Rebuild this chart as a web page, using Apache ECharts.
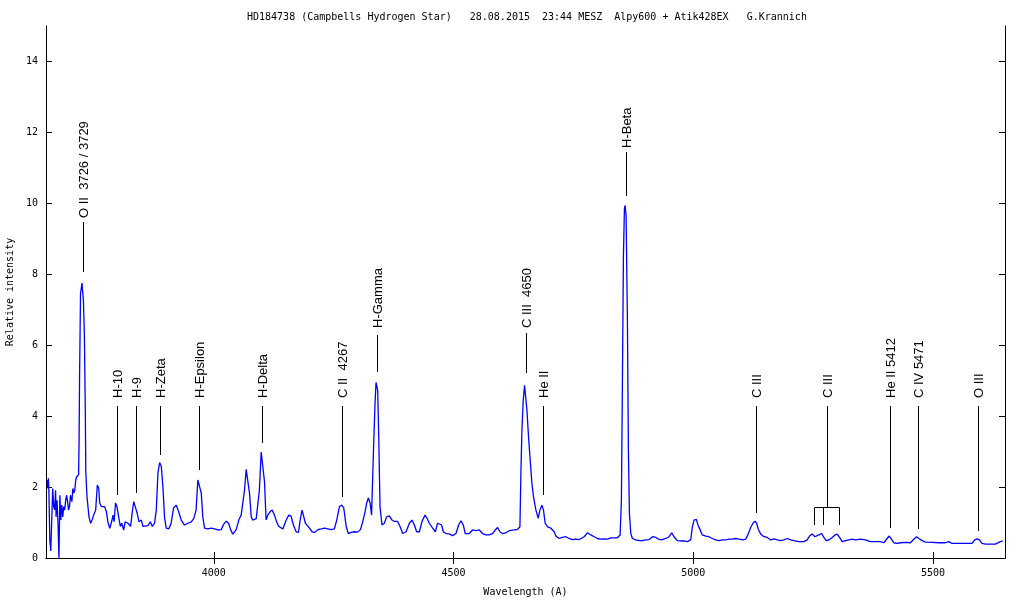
<!DOCTYPE html>
<html>
<head>
<meta charset="utf-8">
<script src="https://cdn.jsdelivr.net/npm/echarts@6/dist/echarts.min.js"></script>
<style>html,body{margin:0;padding:0;background:#fff;}#chart{width:1024px;height:600px;}</style>
</head>
<body>
<div id="chart"></div>
<script>
// ---- data ----
const titleText = 'HD184738 (Campbells Hydrogen Star)   28.08.2015  23:44 MESZ  Alpy600 + Atik428EX   G.Krannich';
const xTicks = [4000, 4500, 5000, 5500];
const yTicks = [0, 2, 4, 6, 8, 10, 12, 14];

const wavelength = [
3652,3654,3655,3656,3658,3660,3662,3664,3666,3668,3670,3671,3673,3675,3677,3679,3681,3683,3685,3687,3689,3691,3693,3695,3697,3699,3701,3704,3706,3708,3710,3712,3714,3716,3718,3719,3720,3722,3725,3727,3728,3730,3732,3733,3735.5,3739.6,3743,3746,3749.4,3753.6,3757,3760,3762,3765.5,3769,3772,3776,3779,3783,3786,3790,3792,3795,3798,3801.5,3805,3808,3812,3815,3821,3826.5,3830,3833,3837,3840,3844,3849,3852,3855.7,3862.5,3867.5,3871.7,3876.5,3880,3883.4,3887,3890.5,3893.8,3897.3,3900.8,3906,3911,3916,3921.7,3926.5,3932,3939,3946,3953,3958,3963,3966.7,3970,3973.8,3977,3980.6,3987.5,3994.6,4001.5,4008.4,4015.5,4020,4026,4030.7,4035,4039.6,4046.7,4052,4057,4060.5,4064,4067.5,4071,4074.4,4078,4081,4085,4088.4,4091.7,4095,4098.8,4102,4105.7,4109,4112.5,4117.5,4121.7,4126.5,4131,4135.5,4137,4144,4151,4156.3,4161,4166,4171.7,4176.5,4180,4184,4187.5,4191,4198,4205,4210,4217,4224,4230.7,4237.6,4244.6,4251.5,4256.3,4262,4266.7,4271,4276,4280.7,4286.3,4293,4300,4305.7,4310.5,4315.5,4318.8,4322.3,4326,4329,4333.4,4336.2,4338.3,4340.5,4341.7,4343.8,4345.2,4346.6,4350.7,4355.6,4360.4,4366,4371.6,4376.5,4383.4,4388.4,4393.8,4400.9,4407.8,4413.4,4418.2,4423,4428.6,4434.2,4440.4,4444.6,4449.4,4456.3,4461.9,4466.7,4470.2,4475,4478.6,4484.2,4491,4498,4505,4510.5,4515.5,4520.2,4524.4,4532.7,4539.6,4546.7,4553.6,4560.4,4567.5,4574.4,4581.3,4587,4591.7,4596.7,4602,4609.2,4616,4626.5,4633.4,4638.4,4640.4,4642.5,4645.3,4648,4651,4653,4656.3,4659.8,4663.4,4666.7,4671.7,4676.5,4680,4684.2,4687.5,4691,4696,4703,4709.8,4713.4,4720.2,4727,4734,4741,4748,4755,4762,4772.3,4779.2,4786.2,4793.1,4800,4807,4814,4820.8,4827.8,4834.8,4841.7,4847.3,4850,4852,4854.2,4856.3,4857.7,4859.8,4862.6,4864.6,4866.7,4869.6,4873,4880,4887,4894,4901,4908,4915,4922,4929,4935.5,4942.5,4949.4,4955,4959.8,4966.7,4973.7,4980.6,4987.5,4994.6,4998,5001.5,5006.3,5009.8,5014,5018.8,5025.8,5032.7,5039.6,5046.6,5053.5,5060.5,5067.5,5074.4,5081.4,5088.4,5095.3,5102.3,5109.2,5114.6,5119.6,5124.4,5128.6,5132,5135.5,5140.4,5147.3,5154.2,5161.2,5168,5175,5182,5189,5195.9,5202.9,5209.8,5220.2,5230.6,5237.5,5242.5,5248,5253.6,5257,5261.9,5267.5,5272.3,5277.1,5282.7,5289.6,5295.3,5300,5305,5310.4,5317.5,5324.4,5331.3,5338.3,5348.7,5359.1,5369.5,5379.9,5390.4,5397.3,5404.2,5408.4,5413.3,5418.1,5425,5432.1,5442.5,5452.9,5459.8,5465.4,5470.2,5477.1,5484.1,5498,5511.9,5525.8,5532.7,5539.6,5550,5560.4,5570.9,5581.3,5586.9,5591.7,5596.7,5602.1,5609.1,5619.5,5629.9,5640.3,5645.1
];
const intensity = [
2.2,1.96,2.25,1.91,0.5,0.2,0.15,1.96,1.45,1.36,1.91,1.16,1.63,1.0,0.0,1.77,1.07,1.49,1.16,1.45,1.35,1.63,1.77,1.59,1.35,1.45,1.77,1.59,1.96,1.83,1.91,2.2,2.29,2.29,2.35,3.3,5.1,7.45,7.75,7.77,7.27,6.33,4.12,2.43,1.73,1.16,0.98,1.07,1.21,1.35,2.06,1.96,1.55,1.45,1.49,1.45,1.31,1.02,0.84,0.98,1.21,1.02,1.55,1.45,1.16,0.89,0.98,0.79,1.02,0.98,0.89,1.31,1.59,1.63,1.27,1.02,1.07,0.89,0.87,0.91,1.02,0.89,0.98,1.35,2.39,2.69,2.58,2.01,1.13,0.84,0.82,0.98,1.41,1.49,1.31,1.07,0.93,0.98,1.02,1.11,1.35,2.2,2.25,1.83,1.16,0.84,0.82,0.84,0.82,0.79,0.8,0.94,1.04,0.98,0.8,0.67,0.8,1.07,1.21,1.21,1.91,2.5,2.48,1.83,1.16,1.07,1.07,1.11,1.07,1.91,2.99,2.95,2.15,1.07,1.21,1.31,1.35,1.21,1.02,0.89,0.84,0.82,1.07,1.21,1.18,0.93,0.74,0.72,1.07,1.35,1.31,0.98,0.87,0.74,0.72,0.8,0.82,0.84,0.82,0.8,0.82,1.07,1.45,1.49,1.41,0.89,0.69,0.72,0.74,0.73,0.8,1.02,1.31,1.55,1.69,1.55,1.21,3.23,4.36,4.95,4.92,4.73,3.51,2.48,1.45,0.93,0.98,1.16,1.19,1.07,1.03,1.03,0.89,0.69,0.74,0.98,1.07,0.93,0.74,0.74,1.03,1.21,1.12,0.98,0.84,0.74,0.98,1.03,0.93,0.74,0.69,0.68,0.63,0.69,0.93,1.05,0.93,0.69,0.69,0.79,0.77,0.79,0.69,0.65,0.65,0.69,0.79,0.86,0.74,0.69,0.71,0.77,0.79,0.81,0.88,2.38,3.6,4.45,4.87,4.92,4.17,3.42,2.76,2.1,1.73,1.35,1.12,1.35,1.49,1.35,0.98,0.88,0.84,0.74,0.62,0.55,0.58,0.6,0.55,0.52,0.53,0.52,0.6,0.71,0.65,0.6,0.55,0.53,0.54,0.53,0.57,0.57,0.57,0.65,1.63,4.73,8.49,9.85,9.94,9.66,6.61,3.04,1.26,0.69,0.55,0.51,0.49,0.49,0.51,0.52,0.6,0.58,0.52,0.52,0.55,0.6,0.71,0.6,0.49,0.48,0.48,0.46,0.51,0.88,1.07,1.09,0.93,0.8,0.65,0.62,0.6,0.55,0.51,0.49,0.51,0.51,0.53,0.53,0.55,0.53,0.51,0.53,0.68,0.86,0.98,1.04,0.98,0.81,0.68,0.6,0.58,0.51,0.54,0.51,0.49,0.51,0.55,0.51,0.49,0.46,0.46,0.51,0.62,0.68,0.6,0.55,0.65,0.69,0.58,0.49,0.51,0.58,0.65,0.67,0.58,0.46,0.49,0.51,0.53,0.51,0.53,0.51,0.46,0.46,0.46,0.43,0.55,0.62,0.53,0.43,0.41,0.43,0.44,0.43,0.53,0.6,0.55,0.49,0.45,0.44,0.43,0.43,0.46,0.41,0.41,0.41,0.41,0.41,0.51,0.54,0.51,0.41,0.39,0.39,0.39,0.46,0.48
];

// line identifications: label, wavelength, marker bottom, marker top, label start (intensity units)
const lineLabels  = ['O II  3726 / 3729','H-10','H-9','H-Zeta','H-Epsilon','H-Delta','C II  4267','H-Gamma','C III  4650','He II','H-Beta','C III','C III','He II 5412','C IV 5471','O III'];
const lineLambda  = [3727, 3798.7, 3837, 3887.7, 3969, 4101.4, 4267, 4339.5, 4652, 4686.8, 4859.8, 5131, 5278.8, 5410, 5468.5, 5594];
const lineBottom  = [8.07, 1.78, 1.83, 2.9, 2.48, 3.24, 1.72, 5.25, 5.22, 1.78, 10.21, 1.27, 1.44, 0.85, 0.82, 0.76];
const lineTop     = [9.48, 4.29, 4.29, 4.29, 4.29, 4.29, 4.29, 6.29, 6.35, 4.29, 11.45, 4.29, 4.29, 4.29, 4.29, 4.29];
const labelStart  = [9.59, 4.51, 4.51, 4.51, 4.51, 4.51, 4.51, 6.49, 6.49, 4.51, 11.56, 4.51, 4.51, 4.51, 4.51, 4.51];
// C III multiplet bracket
const bracketLambda = [5251.7, 5270.5, 5303.8];
const bracketTop = 1.44;
const bracketBottom = 0.93;

// ---- chart ----
const chart = echarts.init(document.getElementById('chart'), null, {renderer: 'canvas'});
const mono = '"DejaVu Sans Mono", "Liberation Mono", monospace';
const spectrum = wavelength.map((w, i) => [w, intensity[i]]);
const annData = lineLambda.map((w, i) => [w, lineBottom[i], lineTop[i], labelStart[i]]);

function crisp(v) { return Math.round(v) + 0.5; }

const axisCommon = {
  axisLine: {show: true, lineStyle: {color: '#000', width: 1}},
  splitLine: {show: false},
  axisTick: {show: true, inside: true, length: 6, lineStyle: {color: '#000', width: 1}}
};

chart.setOption({
  animation: false,
  backgroundColor: '#fff',
  title: {
    text: titleText, left: 242, top: 7,
    textStyle: {fontFamily: mono, fontSize: 10, fontWeight: 'normal', color: '#000'}
  },
  grid: {left: 46, right: 19, top: 26, bottom: 42, containLabel: false, outerBoundsMode: 'none'},
  xAxis: [
    Object.assign({}, axisCommon, {
      type: 'value', min: 3650, max: 5650, position: 'bottom',
      name: 'Wavelength (A)', nameLocation: 'middle', nameGap: 29,
      nameTextStyle: {fontFamily: mono, fontSize: 10, color: '#000'},
      axisTick: Object.assign({}, axisCommon.axisTick, {customValues: xTicks}),
      axisLabel: {customValues: xTicks, formatter: v => String(v), fontFamily: mono, fontSize: 10, color: '#000', margin: 10}
    }),
    Object.assign({}, axisCommon, {
      type: 'value', min: 3650, max: 5650, position: 'top',
      axisTick: Object.assign({}, axisCommon.axisTick, {customValues: xTicks}),
      axisLabel: {show: false}
    })
  ],
  yAxis: [
    Object.assign({}, axisCommon, {
      type: 'value', min: 0, max: 15, position: 'left',
      name: 'Relative intensity', nameLocation: 'middle', nameGap: 31,
      nameTextStyle: {fontFamily: mono, fontSize: 10, color: '#000'},
      axisTick: Object.assign({}, axisCommon.axisTick, {customValues: yTicks}),
      axisLabel: {customValues: yTicks, formatter: v => String(v), fontFamily: mono, fontSize: 10, color: '#000', margin: 8}
    }),
    Object.assign({}, axisCommon, {
      type: 'value', min: 0, max: 15, position: 'right',
      axisTick: Object.assign({}, axisCommon.axisTick, {customValues: yTicks}),
      axisLabel: {show: false}
    })
  ],
  series: [
    {
      type: 'line', data: spectrum, xAxisIndex: 0, yAxisIndex: 0,
      showSymbol: false, symbol: 'none', smooth: false,
      lineStyle: {color: '#0000ff', width: 1.3}, clip: true, z: 3
    },
    {
      type: 'custom', data: annData, xAxisIndex: 0, yAxisIndex: 0, z: 4,
      renderItem: function (params, api) {
        const w = api.value(0);
        const pb = api.coord([w, api.value(1)]);
        const pt = api.coord([w, api.value(2)]);
        const pl = api.coord([w, api.value(3)]);
        const x = crisp(pb[0]);
        return {
          type: 'group',
          children: [
            {type: 'line', shape: {x1: x, y1: Math.round(pb[1]), x2: x, y2: Math.round(pt[1])},
             style: {stroke: '#000', lineWidth: 1}},
            {type: 'text', x: x + 0.5, y: Math.round(pl[1]), rotation: Math.PI / 2,
             style: {text: lineLabels[params.dataIndex], fill: '#000',
                     font: '13px "Liberation Sans", Arial, sans-serif',
                     align: 'left', verticalAlign: 'middle'}}
          ]
        };
      }
    },
    {
      type: 'custom', data: [[bracketLambda[0], bracketTop]], xAxisIndex: 0, yAxisIndex: 0, z: 4,
      renderItem: function (params, api) {
        const ys = api.coord([bracketLambda[0], bracketTop])[1];
        const yb = api.coord([bracketLambda[0], bracketBottom])[1];
        const xs = bracketLambda.map(w => crisp(api.coord([w, 0])[0]));
        const children = [
          {type: 'line', shape: {x1: xs[0], y1: crisp(ys), x2: xs[2], y2: crisp(ys)}, style: {stroke: '#000', lineWidth: 1}}
        ];
        xs.forEach(x => children.push({type: 'line', shape: {x1: x, y1: crisp(ys), x2: x, y2: Math.round(yb)}, style: {stroke: '#000', lineWidth: 1}}));
        return {type: 'group', children: children};
      }
    }
  ]
});
</script>
</body>
</html>
